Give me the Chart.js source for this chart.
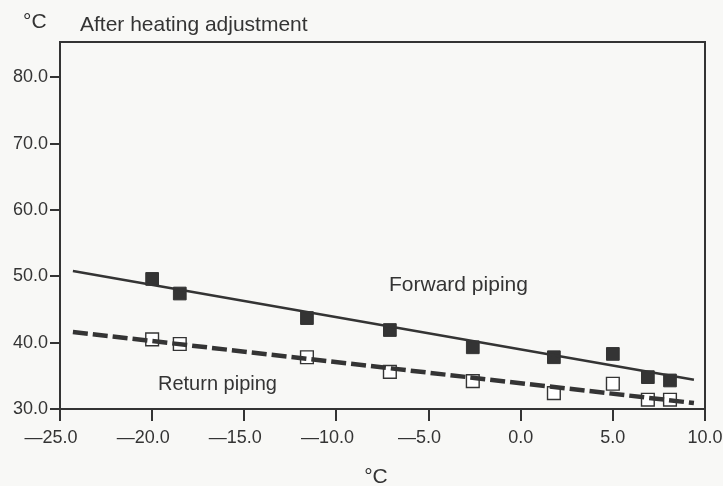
<!DOCTYPE html>
<html>
<head>
<meta charset="utf-8">
<script src="https://cdn.jsdelivr.net/npm/chart.js@4/dist/chart.umd.min.js"></script>
<style>
  html, body { margin: 0; padding: 0; background: #f8f8f6; }
  #wrap { width: 723px; height: 486px; position: relative; }
</style>
</head>
<body>
<div id="wrap"><canvas id="c" width="723" height="486"></canvas></div>
<script>
// Outdoor temperature (°C) at each measurement
const outdoorTemps = [-20.0, -18.5, -11.6, -7.1, -2.6, 1.8, 5.0, 6.9, 8.1];
// Measured forward and return water temperatures (°C)
const forwardTemps = [49.6, 47.4, 43.7, 41.9, 39.3, 37.8, 38.3, 34.8, 34.3];
const returnTemps  = [40.5, 39.8, 37.8, 35.6, 34.2, 32.4, 33.8, 31.4, 31.4];
// Fitted trend lines: [x, y] end points
const forwardFitX = [-24.3, 9.4];
const forwardFitY = [50.8, 34.4];
const returnFitX  = [-24.3, 9.4];
const returnFitY  = [41.6, 30.9];
// Axis ticks
const xTicks = [-25, -20, -15, -10, -5, 0, 5, 10];
const yTicks = [30, 40, 50, 60, 70, 80];

const INK = '#343434';
const FONT = '"Liberation Sans", Arial, Helvetica, sans-serif';

const pts = (xs, ys) => xs.map((x, i) => ({ x: x, y: ys[i] }));

// negative values get a long dash; a trailing em space keeps the digits centred on the tick
const fmtX = v => (v < 0 ? '\u2014' + Math.abs(v).toFixed(1) + '\u2003' : v.toFixed(1));

const annotations = {
  id: 'annotations',
  afterDraw(chart) {
    const ctx = chart.ctx;
    const a = chart.chartArea;
    ctx.save();
    // frame on the top and right side of the plot
    ctx.strokeStyle = INK;
    ctx.lineWidth = 2;
    ctx.beginPath();
    ctx.moveTo(a.left, a.top);
    ctx.lineTo(a.right, a.top);
    ctx.lineTo(a.right, a.bottom);
    ctx.stroke();

    ctx.fillStyle = INK;
    ctx.textBaseline = 'alphabetic';
    ctx.textAlign = 'left';
    ctx.font = '21px ' + FONT;
    ctx.fillText('\u00B0C', 23, 28);
    ctx.fillText('After heating adjustment', 80, 31);
    ctx.fillText('Forward piping', 389, 291);
    ctx.font = '20px ' + FONT;
    ctx.fillText('Return piping', 158, 390);
    ctx.textAlign = 'center';
    ctx.font = '21px ' + FONT;
    ctx.fillText('\u00B0C', 376, 483);
    ctx.restore();
  }
};

new Chart(document.getElementById('c'), {
  type: 'scatter',
  data: {
    datasets: [
      {
        label: 'Forward fit',
        type: 'line',
        data: pts(forwardFitX, forwardFitY),
        borderColor: INK,
        borderWidth: 2.4,
        pointRadius: 0,
        fill: false
      },
      {
        label: 'Return fit',
        type: 'line',
        data: pts(returnFitX, returnFitY),
        borderColor: INK,
        borderWidth: 4.5,
        borderDash: [15, 5],
        pointRadius: 0,
        fill: false
      },
      {
        label: 'Forward piping',
        data: pts(outdoorTemps, forwardTemps),
        pointStyle: 'rect',
        pointRadius: 9,
        backgroundColor: INK,
        borderColor: INK,
        borderWidth: 1
      },
      {
        label: 'Return piping',
        data: pts(outdoorTemps, returnTemps),
        pointStyle: 'rect',
        pointRadius: 9,
        backgroundColor: '#ffffff',
        borderColor: INK,
        borderWidth: 1.4
      }
    ]
  },
  options: {
    responsive: false,
    animation: false,
    layout: { padding: { top: 42, right: 18, bottom: 0, left: 0 } },
    plugins: {
      legend: { display: false },
      tooltip: { enabled: false },
      title: { display: false }
    },
    scales: {
      x: {
        type: 'linear',
        min: -25,
        max: 10,
        afterFit(s) { s.height = 77; s.paddingLeft = 0; s.paddingRight = 0; },
        afterBuildTicks(s) { s.ticks = xTicks.map(v => ({ value: v })); },
        border: { display: true, color: INK, width: 2 },
        grid: { drawOnChartArea: false, drawTicks: true, tickLength: 12, color: INK, lineWidth: 2 },
        ticks: {
          color: INK,
          padding: 6,
          maxRotation: 0,
          font: { family: FONT, size: 18 },
          callback: v => fmtX(v)
        }
      },
      y: {
        type: 'linear',
        min: 30,
        max: 85.3,
        afterFit(s) { s.width = 60; s.paddingTop = 0; s.paddingBottom = 0; },
        afterBuildTicks(s) { s.ticks = yTicks.map(v => ({ value: v })); },
        border: { display: true, color: INK, width: 2 },
        grid: { drawOnChartArea: false, drawTicks: true, tickLength: 10, color: INK, lineWidth: 2 },
        ticks: {
          color: INK,
          padding: 2,
          font: { family: FONT, size: 18 },
          callback: v => v.toFixed(1)
        }
      }
    }
  },
  plugins: [annotations]
});
</script>
</body>
</html>
